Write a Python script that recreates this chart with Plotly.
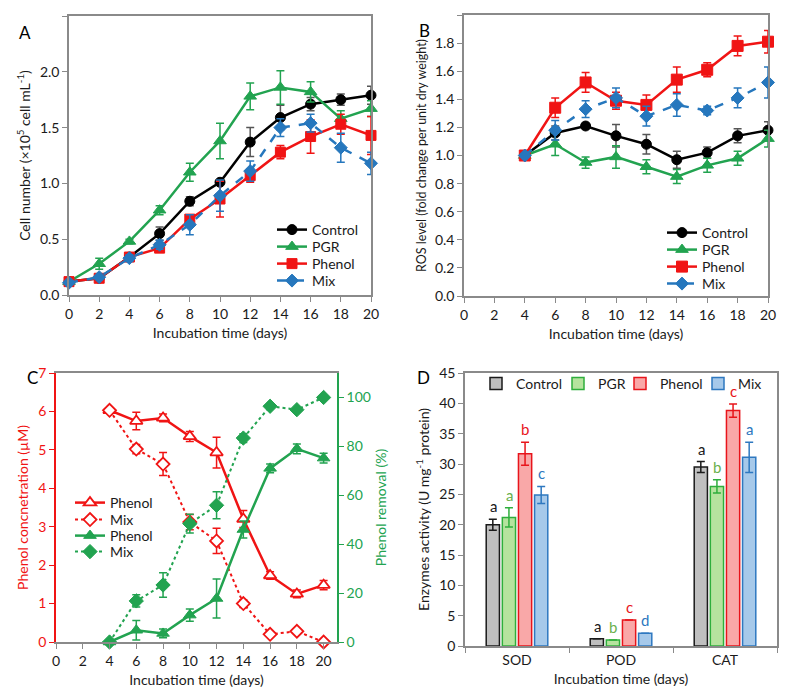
import plotly.graph_objects as go

# panel A: cell number
days = [0, 2, 4, 6, 8, 10, 12, 14, 16, 18, 20]
cell_control = [0.12, 0.15, 0.34, 0.55, 0.84, 1.01, 1.37, 1.59, 1.71, 1.75, 1.79]
cell_control_err = [0.01, 0.01, 0.03, 0.06, 0.04, 0.02, 0.13, 0.11, 0.06, 0.05, 0.08]
cell_pgr = [0.12, 0.28, 0.48, 0.76, 1.10, 1.38, 1.78, 1.86, 1.82, 1.58, 1.67]
cell_pgr_err = [0.01, 0.05, 0.02, 0.04, 0.08, 0.16, 0.12, 0.15, 0.09, 0.07, 0.07]
cell_phenol = [0.12, 0.15, 0.34, 0.42, 0.68, 0.86, 1.07, 1.28, 1.42, 1.53, 1.43]
cell_phenol_err = [0.01, 0.01, 0.03, 0.02, 0.04, 0.16, 0.06, 0.06, 0.15, 0.09, 0.17]
cell_mix = [0.11, 0.16, 0.33, 0.45, 0.63, 0.89, 1.11, 1.50, 1.54, 1.32, 1.18]
cell_mix_err = [0.01, 0.01, 0.03, 0.04, 0.09, 0.14, 0.09, 0.08, 0.08, 0.13, 0.10]

# panel B: ROS level
ros_days = [4, 6, 8, 10, 12, 14, 16, 18, 20]
ros_control = [1.00, 1.16, 1.21, 1.14, 1.08, 0.97, 1.02, 1.14, 1.18]
ros_control_err = [0.01, 0.05, 0.02, 0.08, 0.07, 0.06, 0.04, 0.05, 0.06]
ros_pgr = [1.00, 1.08, 0.95, 0.99, 0.92, 0.85, 0.93, 0.98, 1.12]
ros_pgr_err = [0.01, 0.08, 0.04, 0.08, 0.05, 0.05, 0.05, 0.05, 0.06]
ros_phenol = [1.00, 1.34, 1.52, 1.39, 1.36, 1.54, 1.61, 1.78, 1.81]
ros_phenol_err = [0.01, 0.07, 0.07, 0.06, 0.07, 0.09, 0.05, 0.07, 0.08]
ros_mix = [1.00, 1.18, 1.33, 1.41, 1.28, 1.36, 1.32, 1.41, 1.52]
ros_mix_err = [0.01, 0.07, 0.06, 0.07, 0.07, 0.08, 0.03, 0.07, 0.11]

# panel C: phenol concentration / removal
conc_phenol = [6.03, 5.75, 5.83, 5.35, 4.93, 3.20, 1.73, 1.25, 1.48]
conc_phenol_err = [0.05, 0.23, 0.10, 0.13, 0.40, 0.22, 0.10, 0.10, 0.12]
conc_mix = [6.03, 5.02, 4.63, 3.12, 2.63, 1.00, 0.20, 0.28, 0.0]
conc_mix_err = [0.05, 0.12, 0.30, 0.20, 0.33, 0.10, 0.05, 0.05, 0.02]
rem_phenol = [0.0, 4.8, 3.5, 11.0, 17.8, 46.0, 71.0, 79.0, 75.2]
rem_phenol_err = [0.5, 4.0, 1.8, 2.5, 8.0, 3.5, 1.8, 2.0, 2.0]
rem_mix = [0.0, 16.8, 23.3, 48.4, 55.9, 83.4, 96.4, 95.0, 100.0]
rem_mix_err = [0.5, 2.5, 5.0, 3.8, 5.5, 1.8, 0.8, 0.8, 0.5]

# panel D: enzymes
enzymes = ["SOD", "POD", "CAT"]
enz_control = [20.0, 1.2, 29.5]
enz_control_err = [0.9, 0.0, 0.9]
enz_pgr = [21.2, 1.0, 26.3]
enz_pgr_err = [1.6, 0.0, 1.1]
enz_phenol = [31.7, 4.3, 38.8]
enz_phenol_err = [1.9, 0.0, 1.1]
enz_mix = [24.9, 2.1, 31.1]
enz_mix_err = [1.4, 0.0, 2.5]
letters_control = ["a", "a", "a"]
letters_pgr = ["a", "b", "b"]
letters_phenol = ["b", "c", "c"]
letters_mix = ["c", "d", "a"]

# page body keeps its 8px margin, so the figure is drawn 8px in from the corner
PAGE_OFF = 8
W, H = 787 - 2 * PAGE_OFF, 696 - 2 * PAGE_OFF
FONT = "Lato, 'Noto Sans', sans-serif"
BLACK = "#000000"
GREEN = "#22a350"
RED = "#f01414"
BLUE = "#2677bd"
GRAY_AX = "#8a8a8a"
TXT = "#1a1a1a"


def px_x(p):
    return (p - PAGE_OFF) / W


def px_y(p):
    return 1 - (p - PAGE_OFF) / H


fig = go.Figure()
legends = {}


def add_legend(text_x, row_y):
    # one legend per entry so every entry can sit where the reference has it
    n = len(legends) + 1
    key = "legend" if n == 1 else "legend%d" % n
    legends[key] = dict(x=px_x(text_x - 40), y=px_y(row_y), xanchor="left", yanchor="middle",
                        bgcolor="rgba(0,0,0,0)", borderwidth=0, itemwidth=30,
                        font=dict(size=14, color=TXT, family=FONT))
    return key


def line_trace(x, y, err, name, color, symbol, size, dash, xa, ya, legend, ecolor=None, mfill=None, lw=2.5):
    return go.Scatter(
        x=x, y=y, name=name, mode="lines+markers",
        line=dict(color=color, width=lw, dash=dash),
        marker=dict(color=mfill or color, symbol=symbol, size=size,
                    line=dict(color=color, width=1.8 if mfill else 1)),
        error_y=dict(type="data", array=err, color=ecolor or color, thickness=1.5, width=4),
        xaxis=xa, yaxis=ya, legend=legend, cliponaxis=False,
    )


# A
rows_a = [230, 247, 264, 281]
fig.add_trace(line_trace(days, cell_control, cell_control_err, "Control", BLACK, "circle", 10, "solid", "x", "y", add_legend(312, rows_a[0]), ecolor="#555555"))
fig.add_trace(line_trace(days, cell_pgr, cell_pgr_err, "PGR", GREEN, "triangle-up", 11, "solid", "x", "y", add_legend(312, rows_a[1])))
fig.add_trace(line_trace(days, cell_phenol, cell_phenol_err, "Phenol", RED, "square", 10, "solid", "x", "y", add_legend(312, rows_a[2])))
fig.add_trace(line_trace(days, cell_mix, cell_mix_err, "Mix", BLUE, "diamond", 10, "dash", "x", "y", add_legend(312, rows_a[3])))

# B
rows_b = [233, 250, 267, 284]
fig.add_trace(line_trace(ros_days, ros_control, ros_control_err, "Control", BLACK, "circle", 10, "solid", "x2", "y2", add_legend(702, rows_b[0]), ecolor="#555555"))
fig.add_trace(line_trace(ros_days, ros_pgr, ros_pgr_err, "PGR", GREEN, "triangle-up", 11, "solid", "x2", "y2", add_legend(702, rows_b[1])))
fig.add_trace(line_trace(ros_days, ros_phenol, ros_phenol_err, "Phenol", RED, "square", 11, "solid", "x2", "y2", add_legend(702, rows_b[2])))
fig.add_trace(line_trace(ros_days, ros_mix, ros_mix_err, "Mix", BLUE, "diamond", 10, "dash", "x2", "y2", add_legend(702, rows_b[3])))

# C
rows_c = [503, 520, 536, 552]
fig.add_trace(line_trace(ros_days, conc_phenol, conc_phenol_err, "Phenol", RED, "triangle-up", 11, "solid", "x3", "y3", add_legend(110, rows_c[0]), mfill="white"))
fig.add_trace(line_trace(ros_days, conc_mix, conc_mix_err, "Mix", RED, "diamond", 10, "dot", "x3", "y3", add_legend(110, rows_c[1]), mfill="white", lw=2))
fig.add_trace(line_trace(ros_days, rem_phenol, rem_phenol_err, "Phenol", GREEN, "triangle-up", 11, "solid", "x3", "y5", add_legend(110, rows_c[2])))
fig.add_trace(line_trace(ros_days, rem_mix, rem_mix_err, "Mix", GREEN, "diamond", 11, "dot", "x3", "y5", add_legend(110, rows_c[3]), lw=2))

# D
bar_specs = [
    ("Control", enz_control, enz_control_err, letters_control, "#bfbfbf", "#1a1a1a", "#1a1a1a", 500),
    ("PGR", enz_pgr, enz_pgr_err, letters_pgr, "#b6e39e", "#2fae3c", "#6ab04c", 582),
    ("Phenol", enz_phenol, enz_phenol_err, letters_phenol, "#f9a8a8", "#e8141b", "#e8141b", 644),
    ("Mix", enz_mix, enz_mix_err, letters_mix, "#a6c9ea", "#2e78c0", "#2e78c0", 722),
]
offsets = [-24, -8, 8, 24]
for (name, vals, errs, lets, fill, edge, lcol, box_x), off in zip(bar_specs, offsets):
    fig.add_trace(go.Bar(
        x=enzymes, y=vals, name=name,
        marker=dict(color=fill, line=dict(color=edge, width=1.5)),
        error_y=dict(type="data", array=errs, color=edge, thickness=1.5, width=4, visible=True),
        xaxis="x4", yaxis="y4", legend=add_legend(box_x + 16, 384),
    ))
    for cat, v, e, t in zip(enzymes, vals, errs, lets):
        fig.add_annotation(x=cat, y=v + e, text=t, xref="x4", yref="y4", xshift=off, yshift=2,
                           yanchor="bottom", showarrow=False,
                           font=dict(size=15, color=lcol, family=FONT))

axis_common = dict(showgrid=False, zeroline=False, showline=True, linecolor=GRAY_AX, linewidth=1.5,
                   ticks="outside", ticklen=5, tickcolor=GRAY_AX, tickwidth=1.2, automargin=False,
                   tickfont=dict(size=14, color=TXT, family=FONT))
title_font = dict(size=14, color=TXT, family=FONT)

fig.update_layout(
    width=W, height=H, margin=dict(l=0, r=0, t=0, b=0, autoexpand=False),
    paper_bgcolor="white", plot_bgcolor="white", showlegend=True,
    font=dict(family=FONT, color=TXT),
    barmode="group", bargap=0.38, bargroupgap=0.18,
    xaxis=dict(domain=[px_x(69), px_x(371)], anchor="y", range=[0, 20], dtick=2, mirror=True,
               title=dict(text="Incubation time (days)", font=title_font, standoff=8), **axis_common),
    yaxis=dict(domain=[px_y(295), px_y(16)], anchor="x", range=[0, 2.5], dtick=0.5, tickformat=".1f", mirror=True,
               title=dict(text="Cell number (×10<sup>5</sup> cell mL<sup>-1</sup>)", font=title_font, standoff=6), **axis_common),
    xaxis2=dict(domain=[px_x(464), px_x(768)], anchor="y2", range=[0, 20], dtick=2, mirror=True,
                title=dict(text="Incubation time (days)", font=title_font, standoff=8), **axis_common),
    yaxis2=dict(domain=[px_y(296), px_y(15)], anchor="x2", range=[0, 2.0], dtick=0.2, tickformat=".1f", mirror=True,
                title=dict(text="ROS level (fold change per unit dry weight)", font=dict(size=12.5, color=TXT, family=FONT), standoff=6),
                **axis_common),
    xaxis3=dict(domain=[px_x(56), px_x(337)], anchor="y3", range=[0, 21], tickvals=days, mirror=True,
                title=dict(text="Incubation time (days)", font=title_font, standoff=8), **axis_common),
    yaxis3=dict(domain=[px_y(642), px_y(373)], anchor="x3", range=[0, 7], dtick=1,
                title=dict(text="Phenol concnetration (µM)", font=dict(size=14, color=RED, family=FONT), standoff=6),
                **{**axis_common, "linecolor": RED, "tickcolor": RED, "tickfont": dict(size=14, color=RED, family=FONT)}),
    yaxis5=dict(domain=[px_y(642), px_y(373)], anchor="x3", overlaying="y3", side="right", range=[0, 110],
                tickvals=[0, 20, 40, 60, 80, 100],
                title=dict(text="Phenol removal (%)", font=dict(size=14, color=GREEN, family=FONT), standoff=6),
                **{**axis_common, "linecolor": GREEN, "tickcolor": GREEN, "tickfont": dict(size=14, color=GREEN, family=FONT)}),
    xaxis4=dict(domain=[px_x(465), px_x(777)], anchor="y4", mirror=True, tickson="boundaries",
                title=dict(text="Incubation time (days)", font=title_font, standoff=8), **axis_common),
    yaxis4=dict(domain=[px_y(646), px_y(373)], anchor="x4", range=[0, 45], dtick=5, mirror=True,
                title=dict(text="Enzymes activity (U mg<sup>-1</sup> protein)", font=title_font, standoff=6), **axis_common),
    **legends,
)

for t, x, y in [("A", 17, 20), ("B", 424, 18), ("C", 25, 378), ("D", 423, 377)]:
    fig.add_annotation(x=px_x(x), y=px_y(y), xref="paper", yref="paper", text=t, showarrow=False,
                       font=dict(size=17, color=BLACK, family=FONT))

fig.write_html("out.html")
